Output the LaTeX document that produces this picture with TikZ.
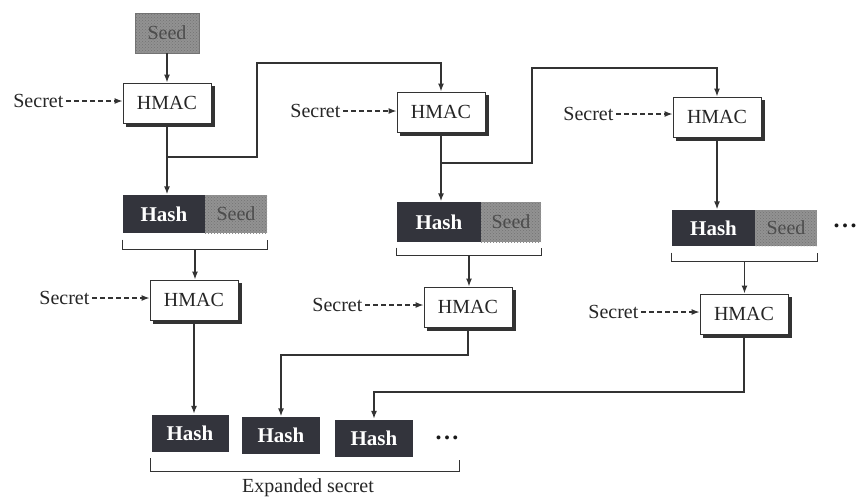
\documentclass[tikz,border=0pt]{standalone}
\usepackage{fontspec}
\setmainfont{Liberation Serif}
\usetikzlibrary{arrows.meta,patterns,calc}
\pgfdeclarelayer{background}
\pgfsetlayers{background,main}
\definecolor{ink}{HTML}{333333}
\definecolor{hashfill}{HTML}{33343C}
\definecolor{seedfill}{HTML}{929292}
\newcommand{\fs}{\fontsize{20}{22}\selectfont}
\begin{document}
\begin{tikzpicture}[x=1pt,y=-1pt,
  line width=1.3pt,
  hmacbox/.style={draw=ink, line width=1pt, fill=white, minimum width=88pt, minimum height=40pt, inner sep=0pt, font=\fs, text=black!85},
  shadowfill/.style={fill=ink},
  hashbox/.style={fill=hashfill, minimum height=38pt, inner sep=0pt, text=white, font=\fontsize{21}{23}\selectfont\bfseries},
  seedbox/.style={fill=seedfill, postaction={pattern=crosshatch dots, pattern color=black!55}, minimum height=38pt, inner sep=0pt, text=black!70, font=\fs},
  secretlbl/.style={font=\fs, text=black!85, inner sep=2pt, anchor=east},
  arr/.style={draw=ink, line width=1.3pt, -{Latex[length=8pt,width=6pt]}},
  darr/.style={draw=ink, line width=1.1pt, dash pattern=on 4.5pt off 3.5pt, -{Latex[length=8pt,width=6pt]}},
  brk/.style={draw=ink, line width=1.1pt},
  dotsl/.style={font=\fontsize{24}{24}\selectfont\bfseries, text=black!90, inner sep=0pt}
]
\useasboundingbox (0,0) rectangle (857,499);

% ---------- column 1 ----------
\node[seedbox, minimum width=64pt, minimum height=40pt, draw=black!55, line width=0.8pt] (seed0) at (167,33) {Seed};
\node[hmacbox] (hmac1) at (167,103) {HMAC};
\node[secretlbl] (sec1) at (66,101) {Secret};
\node[hashbox, minimum width=82pt] (hash1) at (164,214) {Hash};
\node[seedbox, minimum width=62pt] (seed1) at (236,214) {Seed};
\node[hmacbox] (hmac3) at (194,300) {HMAC};
\node[secretlbl] (sec3) at (92,298) {Secret};

% ---------- column 2 ----------
\node[hmacbox] (hmac2) at (441,112) {HMAC};
\node[secretlbl] (sec2) at (343,111) {Secret};
\node[hashbox, minimum width=84pt, minimum height=40pt] (hash2) at (439,222) {Hash};
\node[seedbox, minimum width=60pt, minimum height=40pt] (seed2) at (511,222) {Seed};
\node[hmacbox] (hmac4) at (468,307) {HMAC};
\node[secretlbl] (sec4) at (365,305) {Secret};

% ---------- column 3 ----------
\node[hmacbox] (hmac5) at (717,117) {HMAC};
\node[secretlbl] (sec5) at (616,114) {Secret};
\node[hashbox, minimum width=83pt, minimum height=36pt] (hash3) at (713.5,228) {Hash};
\node[seedbox, minimum width=62pt, minimum height=36pt] (seed3) at (786,228) {Seed};
\node[dotsl] (dots3) at (845,226) {.\hspace{2.5pt}.\hspace{2.5pt}.};
\node[hmacbox] (hmac6) at (744,314) {HMAC};
\node[secretlbl] (sec6) at (641,312) {Secret};

% ---------- bottom row ----------
\node[hashbox, minimum width=77pt, minimum height=37pt] (hb1) at (190,433) {Hash};
\node[hashbox, minimum width=78pt, minimum height=37pt] (hb2) at (281,435.5) {Hash};
\node[hashbox, minimum width=78pt, minimum height=37pt] (hb3) at (374,438) {Hash};
\node[dotsl] (dotsb) at (447,438) {.\hspace{2.5pt}.\hspace{2.5pt}.};
\node[font=\fs, text=black!85] (exp) at (308,488) {Expanded secret};

% ---------- shadows of HMAC boxes ----------
\begin{pgfonlayer}{background}
\foreach \h in {hmac1,hmac2,hmac3,hmac4,hmac5,hmac6}
  \fill[shadowfill] ($(\h.south west)+(3.5,3.5)$) rectangle ($(\h.north east)+(3.5,3.5)$);
\end{pgfonlayer}

% ---------- brackets ----------
\draw[brk] ($(hash1.south west)+(0,6)$) -- ++(0,10) coordinate (bl1) -- (bl1 -| seed1.south east) -- ($(seed1.south east)+(0,6)$);
\draw[brk] ($(hash2.south west)+(0,5)$) -- ++(0,8) coordinate (bl2) -- (bl2 -| seed2.south east) -- ($(seed2.south east)+(0,5)$);
\draw[brk] ($(hash3.south west)+(0,6)$) -- ++(0,9) coordinate (bl3) -- (bl3 -| seed3.south east) -- ($(seed3.south east)+(0,6)$);
\draw[brk] ($(hb1.south west)+(0,6)$) -- ++(0,13) coordinate (blb) -- (blb -| dotsb.east) coordinate (brb) -- ++(0,-11);
\coordinate (m1) at ($(bl1)!0.5!(bl1 -| seed1.south east)$);
\coordinate (m2) at ($(bl2)!0.5!(bl2 -| seed2.south east)$);
\coordinate (m3) at ($(bl3)!0.5!(bl3 -| seed3.south east)$);

% ---------- connectors ----------
\draw[arr] (seed0) -- (hmac1);
\draw[arr] (hmac1.south) -- (hmac1.south |- hash1.north);
\coordinate (b1) at (167,157);
\coordinate (r1) at (257,63);
\draw[arr] (b1) -| (r1) -| (hmac2.north);
\draw[arr] (m1) -- (m1 |- hmac3.north);
\draw[arr] (hmac3.south) -- (hmac3.south |- hb1.north);

\draw[arr] (hmac2.south) -- (hmac2.south |- hash2.north);
\coordinate (b2) at (441,163);
\coordinate (r2) at (532,68);
\draw[arr] (b2) -| (r2) -| (hmac5.north);
\draw[arr] (m2) -- (m2 |- hmac4.north);
\coordinate (c4) at (468,355);
\draw[arr] (hmac4.south) -- (c4) -| (hb2.north);

\draw[arr] (hmac5.south) -- (hmac5.south |- hash3.north);
\draw[arr] (m3) -- (m3 |- hmac6.north);
\coordinate (c6) at (744,392);
\draw[arr] (hmac6.south) -- (c6) -| (hb3.north);

\draw[darr] (sec1.east) -- (sec1.east -| hmac1.west);
\draw[darr] (sec2.east) -- (sec2.east -| hmac2.west);
\draw[darr] (sec3.east) -- (sec3.east -| hmac3.west);
\draw[darr] (sec4.east) -- (sec4.east -| hmac4.west);
\draw[darr] (sec5.east) -- (sec5.east -| hmac5.west);
\draw[darr] (sec6.east) -- (sec6.east -| hmac6.west);
\end{tikzpicture}
\end{document}
